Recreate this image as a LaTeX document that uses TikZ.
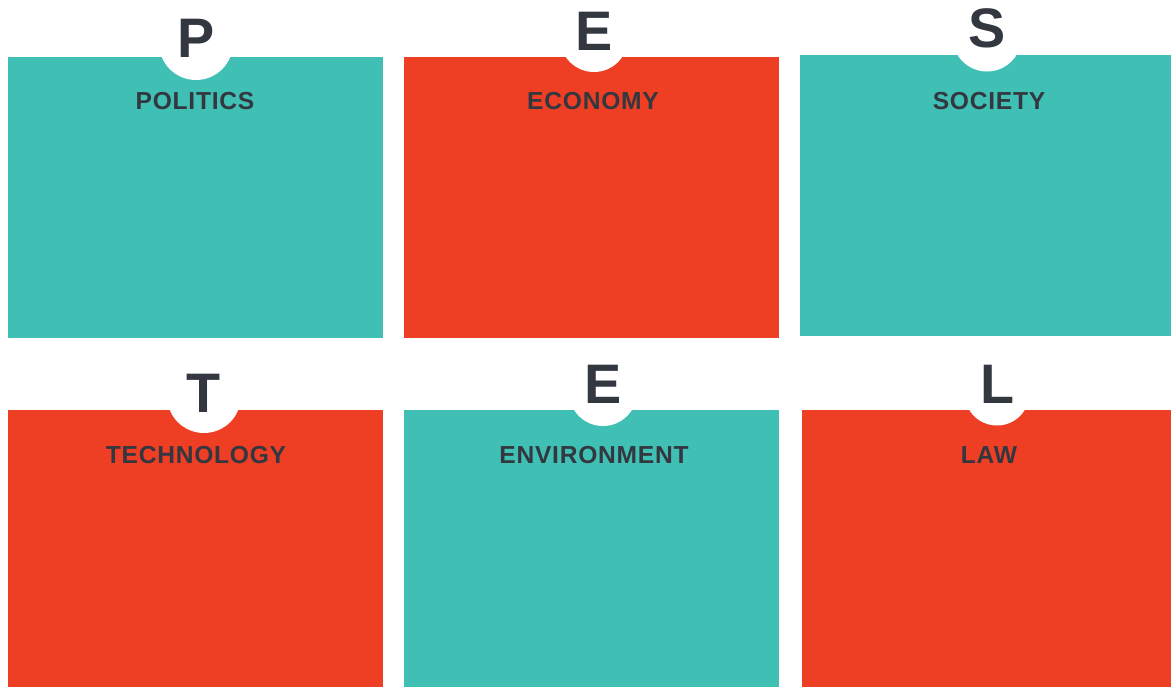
\documentclass[tikz,border=0pt]{standalone}
\usepackage{fontspec}
\setmainfont{Liberation Sans}
\newfontfamily\headfont[LetterSpace=3]{Liberation Sans}
\usetikzlibrary{positioning}

\definecolor{pestteal}{RGB}{64,192,180}
\definecolor{pestred}{RGB}{238,62,36}
\definecolor{pestgrey}{RGB}{51,55,64}

\begin{document}
\begin{tikzpicture}[x=0.02cm, y=-0.02cm,
    panel/.style={rectangle, inner sep=0pt, anchor=north west},
    notch/.style={circle, fill=white, inner sep=0pt},
    letter/.style={anchor=base, inner sep=0pt, text=pestgrey, font=\fontsize{31.7}{32}\selectfont\bfseries},
    heading/.style={anchor=base, inner sep=0pt, text=pestgrey, font=\headfont\fontsize{14}{15}\selectfont\bfseries}]

    \useasboundingbox (0,0) rectangle (1171,687);

    % six panels, two rows
    \node[panel, fill=pestteal, minimum width=7.5cm, minimum height=5.62cm] (pol) at (8,57) {};
    \node[panel, fill=pestred, minimum width=7.5cm, minimum height=5.62cm] (eco) at (404,57) {};
    \node[panel, fill=pestteal, minimum width=7.42cm, minimum height=5.62cm] (soc) at (800,55) {};
    \node[panel, fill=pestred, minimum width=7.5cm, minimum height=5.54cm] (tec) at (8,410) {};
    \node[panel, fill=pestteal, minimum width=7.5cm, minimum height=5.54cm] (env) at (404,410) {};
    \node[panel, fill=pestred, minimum width=7.38cm, minimum height=5.54cm] (law) at (802,410) {};

    % white notches with the letters
    \node[notch, minimum size=1.48cm] (polnotch) at (196,43) {};
    \node[notch, minimum size=1.36cm] (econotch) at (594,38) {};
    \node[notch, minimum size=1.38cm] (socnotch) at (987,37) {};
    \node[notch, minimum size=1.48cm] (tecnotch) at (204,396) {};
    \node[notch, minimum size=1.36cm] (envnotch) at (603,392) {};
    \node[notch, minimum size=1.30cm] (lawnotch) at (997,393) {};

    \node[letter] (polletter) at (196,57) {P};
    \node[letter] (ecoletter) at (594,50) {E};
    \node[letter] (socletter) at (987,47) {S};
    \node[letter] (tecletter) at (204,412) {T};
    \node[letter] (envletter) at (603,403) {E};
    \node[letter] (lawletter) at (998,403) {L};

    % headings
    \node[heading] (polhead) at (195,109) {POLITICS};
    \node[heading] (ecohead) at (593,109) {ECONOMY};
    \node[heading] (sochead) at (989,109) {SOCIETY};
    \node[heading] (techead) at (196,463) {TECHNOLOGY};
    \node[heading] (envhead) at (594,463) {ENVIRONMENT};
    \node[heading] (lawhead) at (989,463) {LAW};
\end{tikzpicture}
\end{document}
